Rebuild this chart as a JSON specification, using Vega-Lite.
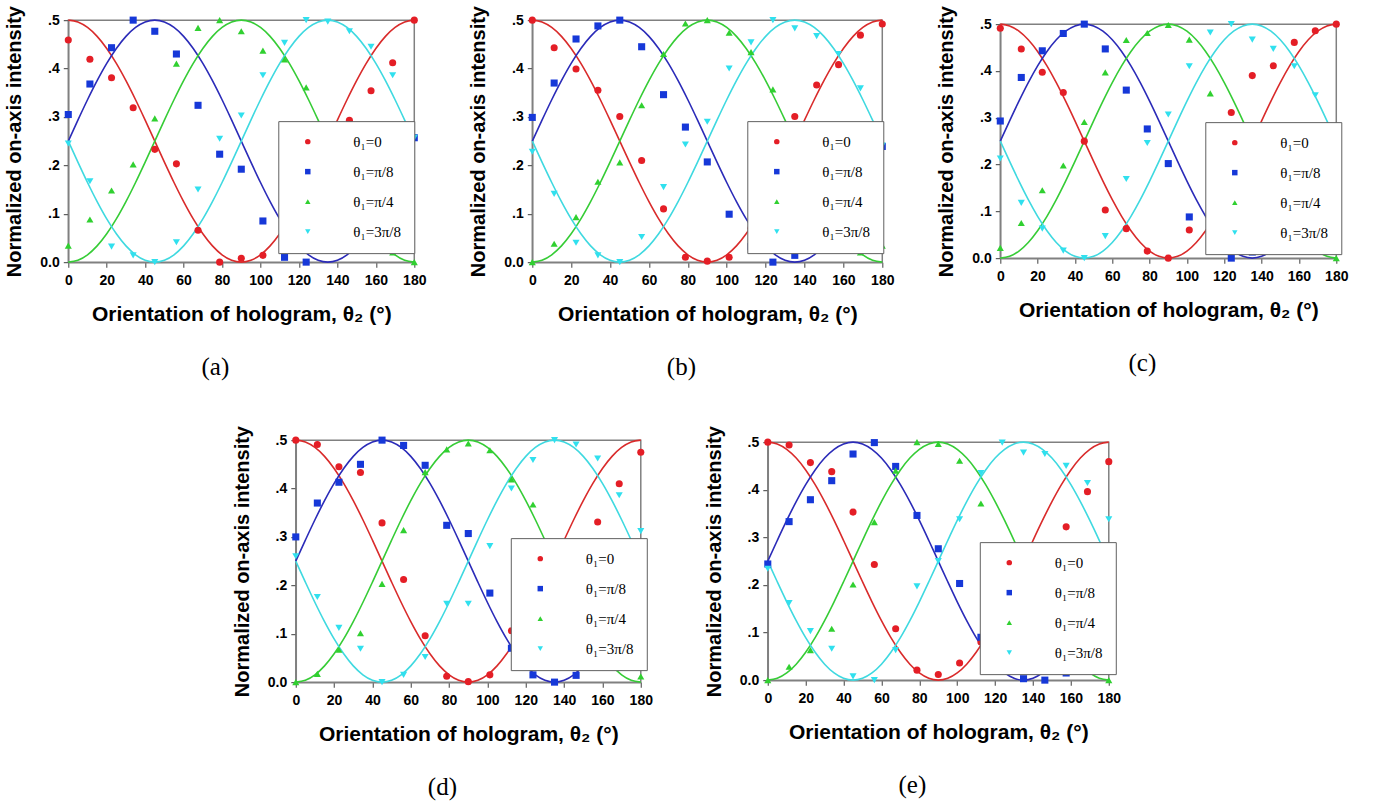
{
"$schema":"https://vega.github.io/schema/vega-lite/v6.json",
"background":"white",
"padding":{"left":4,"top":4,"right":0,"bottom":0},
"config":{
"view":{"stroke":"#808080","strokeWidth":1.5},
"axis":{"grid":false,"domainColor":"#808080","domainWidth":1.5,"tickColor":"#606060","tickSize":5,"tickWidth":1.2,"labelFont":"Liberation Sans","labelFontSize":14,"labelFontWeight":"bold","labelColor":"#000","labelPadding":4,"labelFlush":false,"labelOverlap":false,"titleFont":"Liberation Sans","titleFontSize":20,"titleFontWeight":"bold","titleColor":"#000"},
"axisX":{"labelPadding":6,"titlePadding":16,"titleFontSize":21},
"axisY":{"titlePadding":15},
"legend":{"padding":13,"rowPadding":14,"fillColor":"white","strokeColor":"#606060","labelFont":"Liberation Serif","labelFontSize":15,"labelColor":"#000","symbolSize":30},
"title":{"font":"Liberation Serif","fontSize":25,"fontWeight":"normal","color":"#000","orient":"bottom","frame":"bounds","anchor":"middle","offset":31}
},
"datasets":{
"curves":[
{"k":"R","x":0,"y":0.5},{"k":"R","x":5,"y":0.4962},{"k":"R","x":10,"y":0.4849},{"k":"R","x":15,"y":0.4665},{"k":"R","x":20,"y":0.4415},{"k":"R","x":25,"y":0.4107},{"k":"R","x":30,"y":0.375},{"k":"R","x":35,"y":0.3355},{"k":"R","x":40,"y":0.2934},{"k":"R","x":45,"y":0.25},{"k":"R","x":50,"y":0.2066},{"k":"R","x":55,"y":0.1645},{"k":"R","x":60,"y":0.125},{"k":"R","x":65,"y":0.0893},{"k":"R","x":70,"y":0.0585},{"k":"R","x":75,"y":0.0335},{"k":"R","x":80,"y":0.0151},{"k":"R","x":85,"y":0.0038},{"k":"R","x":90,"y":0},{"k":"R","x":95,"y":0.0038},{"k":"R","x":100,"y":0.0151},{"k":"R","x":105,"y":0.0335},{"k":"R","x":110,"y":0.0585},{"k":"R","x":115,"y":0.0893},{"k":"R","x":120,"y":0.125},{"k":"R","x":125,"y":0.1645},{"k":"R","x":130,"y":0.2066},{"k":"R","x":135,"y":0.25},{"k":"R","x":140,"y":0.2934},{"k":"R","x":145,"y":0.3355},{"k":"R","x":150,"y":0.375},{"k":"R","x":155,"y":0.4107},{"k":"R","x":160,"y":0.4415},{"k":"R","x":165,"y":0.4665},{"k":"R","x":170,"y":0.4849},{"k":"R","x":175,"y":0.4962},{"k":"R","x":180,"y":0.5},
{"k":"B","x":0,"y":0.25},{"k":"B","x":5,"y":0.2934},{"k":"B","x":10,"y":0.3355},{"k":"B","x":15,"y":0.375},{"k":"B","x":20,"y":0.4107},{"k":"B","x":25,"y":0.4415},{"k":"B","x":30,"y":0.4665},{"k":"B","x":35,"y":0.4849},{"k":"B","x":40,"y":0.4962},{"k":"B","x":45,"y":0.5},{"k":"B","x":50,"y":0.4962},{"k":"B","x":55,"y":0.4849},{"k":"B","x":60,"y":0.4665},{"k":"B","x":65,"y":0.4415},{"k":"B","x":70,"y":0.4107},{"k":"B","x":75,"y":0.375},{"k":"B","x":80,"y":0.3355},{"k":"B","x":85,"y":0.2934},{"k":"B","x":90,"y":0.25},{"k":"B","x":95,"y":0.2066},{"k":"B","x":100,"y":0.1645},{"k":"B","x":105,"y":0.125},{"k":"B","x":110,"y":0.0893},{"k":"B","x":115,"y":0.0585},{"k":"B","x":120,"y":0.0335},{"k":"B","x":125,"y":0.0151},{"k":"B","x":130,"y":0.0038},{"k":"B","x":135,"y":0},{"k":"B","x":140,"y":0.0038},{"k":"B","x":145,"y":0.0151},{"k":"B","x":150,"y":0.0335},{"k":"B","x":155,"y":0.0585},{"k":"B","x":160,"y":0.0893},{"k":"B","x":165,"y":0.125},{"k":"B","x":170,"y":0.1645},{"k":"B","x":175,"y":0.2066},{"k":"B","x":180,"y":0.25},
{"k":"G","x":0,"y":0},{"k":"G","x":5,"y":0.0038},{"k":"G","x":10,"y":0.0151},{"k":"G","x":15,"y":0.0335},{"k":"G","x":20,"y":0.0585},{"k":"G","x":25,"y":0.0893},{"k":"G","x":30,"y":0.125},{"k":"G","x":35,"y":0.1645},{"k":"G","x":40,"y":0.2066},{"k":"G","x":45,"y":0.25},{"k":"G","x":50,"y":0.2934},{"k":"G","x":55,"y":0.3355},{"k":"G","x":60,"y":0.375},{"k":"G","x":65,"y":0.4107},{"k":"G","x":70,"y":0.4415},{"k":"G","x":75,"y":0.4665},{"k":"G","x":80,"y":0.4849},{"k":"G","x":85,"y":0.4962},{"k":"G","x":90,"y":0.5},{"k":"G","x":95,"y":0.4962},{"k":"G","x":100,"y":0.4849},{"k":"G","x":105,"y":0.4665},{"k":"G","x":110,"y":0.4415},{"k":"G","x":115,"y":0.4107},{"k":"G","x":120,"y":0.375},{"k":"G","x":125,"y":0.3355},{"k":"G","x":130,"y":0.2934},{"k":"G","x":135,"y":0.25},{"k":"G","x":140,"y":0.2066},{"k":"G","x":145,"y":0.1645},{"k":"G","x":150,"y":0.125},{"k":"G","x":155,"y":0.0893},{"k":"G","x":160,"y":0.0585},{"k":"G","x":165,"y":0.0335},{"k":"G","x":170,"y":0.0151},{"k":"G","x":175,"y":0.0038},{"k":"G","x":180,"y":0},
{"k":"C","x":0,"y":0.25},{"k":"C","x":5,"y":0.2066},{"k":"C","x":10,"y":0.1645},{"k":"C","x":15,"y":0.125},{"k":"C","x":20,"y":0.0893},{"k":"C","x":25,"y":0.0585},{"k":"C","x":30,"y":0.0335},{"k":"C","x":35,"y":0.0151},{"k":"C","x":40,"y":0.0038},{"k":"C","x":45,"y":0},{"k":"C","x":50,"y":0.0038},{"k":"C","x":55,"y":0.0151},{"k":"C","x":60,"y":0.0335},{"k":"C","x":65,"y":0.0585},{"k":"C","x":70,"y":0.0893},{"k":"C","x":75,"y":0.125},{"k":"C","x":80,"y":0.1645},{"k":"C","x":85,"y":0.2066},{"k":"C","x":90,"y":0.25},{"k":"C","x":95,"y":0.2934},{"k":"C","x":100,"y":0.3355},{"k":"C","x":105,"y":0.375},{"k":"C","x":110,"y":0.4107},{"k":"C","x":115,"y":0.4415},{"k":"C","x":120,"y":0.4665},{"k":"C","x":125,"y":0.4849},{"k":"C","x":130,"y":0.4962},{"k":"C","x":135,"y":0.5},{"k":"C","x":140,"y":0.4962},{"k":"C","x":145,"y":0.4849},{"k":"C","x":150,"y":0.4665},{"k":"C","x":155,"y":0.4415},{"k":"C","x":160,"y":0.4107},{"k":"C","x":165,"y":0.375},{"k":"C","x":170,"y":0.3355},{"k":"C","x":175,"y":0.2934},{"k":"C","x":180,"y":0.25}
],
"pa":[
{"s":"r","x":0,"y":0.459},{"s":"r","x":11.25,"y":0.419},{"s":"r","x":22.5,"y":0.381},{"s":"r","x":33.75,"y":0.319},{"s":"r","x":45,"y":0.233},{"s":"r","x":56.25,"y":0.203},{"s":"r","x":67.5,"y":0.066},{"s":"r","x":78.75,"y":0.0},{"s":"r","x":90,"y":0.008},{"s":"r","x":101.25,"y":0.014},{"s":"r","x":112.5,"y":0.07},{"s":"r","x":123.75,"y":0.14},{"s":"r","x":135,"y":0.22},{"s":"r","x":146.25,"y":0.293},{"s":"r","x":157.5,"y":0.354},{"s":"r","x":168.75,"y":0.412},{"s":"r","x":180,"y":0.5},
{"s":"b","x":0,"y":0.305},{"s":"b","x":11.25,"y":0.368},{"s":"b","x":22.5,"y":0.443},{"s":"b","x":33.75,"y":0.5},{"s":"b","x":45,"y":0.477},{"s":"b","x":56.25,"y":0.43},{"s":"b","x":67.5,"y":0.324},{"s":"b","x":78.75,"y":0.223},{"s":"b","x":90,"y":0.192},{"s":"b","x":101.25,"y":0.085},{"s":"b","x":112.5,"y":0.01},{"s":"b","x":123.75,"y":0.0},{"s":"b","x":135,"y":0.03},{"s":"b","x":146.25,"y":0.05},{"s":"b","x":157.5,"y":0.09},{"s":"b","x":168.75,"y":0.16},{"s":"b","x":180,"y":0.257},
{"s":"g","x":0,"y":0.034},{"s":"g","x":11.25,"y":0.088},{"s":"g","x":22.5,"y":0.148},{"s":"g","x":33.75,"y":0.202},{"s":"g","x":45,"y":0.297},{"s":"g","x":56.25,"y":0.41},{"s":"g","x":67.5,"y":0.484},{"s":"g","x":78.75,"y":0.5},{"s":"g","x":90,"y":0.477},{"s":"g","x":101.25,"y":0.437},{"s":"g","x":112.5,"y":0.419},{"s":"g","x":123.75,"y":0.361},{"s":"g","x":135,"y":0.27},{"s":"g","x":146.25,"y":0.15},{"s":"g","x":157.5,"y":0.07},{"s":"g","x":168.75,"y":0.02},{"s":"g","x":180,"y":0.0},
{"s":"c","x":0,"y":0.245},{"s":"c","x":11.25,"y":0.167},{"s":"c","x":22.5,"y":0.032},{"s":"c","x":33.75,"y":0.014},{"s":"c","x":45,"y":0.0},{"s":"c","x":56.25,"y":0.041},{"s":"c","x":67.5,"y":0.15},{"s":"c","x":78.75,"y":0.255},{"s":"c","x":90,"y":0.303},{"s":"c","x":101.25,"y":0.386},{"s":"c","x":112.5,"y":0.453},{"s":"c","x":123.75,"y":0.5},{"s":"c","x":135,"y":0.497},{"s":"c","x":146.25,"y":0.477},{"s":"c","x":157.5,"y":0.445},{"s":"c","x":168.75,"y":0.386},{"s":"c","x":180,"y":0.257}
],
"pb":[
{"s":"r","x":0,"y":0.5},{"s":"r","x":11.25,"y":0.443},{"s":"r","x":22.5,"y":0.399},{"s":"r","x":33.75,"y":0.355},{"s":"r","x":45,"y":0.301},{"s":"r","x":56.25,"y":0.21},{"s":"r","x":67.5,"y":0.11},{"s":"r","x":78.75,"y":0.01},{"s":"r","x":90,"y":0.002},{"s":"r","x":101.25,"y":0.01},{"s":"r","x":112.5,"y":0.07},{"s":"r","x":123.75,"y":0.2},{"s":"r","x":135,"y":0.301},{"s":"r","x":146.25,"y":0.366},{"s":"r","x":157.5,"y":0.408},{"s":"r","x":168.75,"y":0.469},{"s":"r","x":180,"y":0.492},
{"s":"b","x":0,"y":0.299},{"s":"b","x":11.25,"y":0.37},{"s":"b","x":22.5,"y":0.461},{"s":"b","x":33.75,"y":0.488},{"s":"b","x":45,"y":0.5},{"s":"b","x":56.25,"y":0.445},{"s":"b","x":67.5,"y":0.346},{"s":"b","x":78.75,"y":0.279},{"s":"b","x":90,"y":0.207},{"s":"b","x":101.25,"y":0.099},{"s":"b","x":112.5,"y":0.032},{"s":"b","x":123.75,"y":0.0},{"s":"b","x":135,"y":0.014},{"s":"b","x":146.25,"y":0.04},{"s":"b","x":157.5,"y":0.09},{"s":"b","x":168.75,"y":0.17},{"s":"b","x":180,"y":0.239},
{"s":"g","x":0,"y":0.0},{"s":"g","x":11.25,"y":0.038},{"s":"g","x":22.5,"y":0.093},{"s":"g","x":33.75,"y":0.166},{"s":"g","x":45,"y":0.206},{"s":"g","x":56.25,"y":0.324},{"s":"g","x":67.5,"y":0.43},{"s":"g","x":78.75,"y":0.493},{"s":"g","x":90,"y":0.5},{"s":"g","x":101.25,"y":0.474},{"s":"g","x":112.5,"y":0.434},{"s":"g","x":123.75,"y":0.357},{"s":"g","x":135,"y":0.26},{"s":"g","x":146.25,"y":0.14},{"s":"g","x":157.5,"y":0.07},{"s":"g","x":168.75,"y":0.02},{"s":"g","x":180,"y":0.034},
{"s":"c","x":0,"y":0.228},{"s":"c","x":11.25,"y":0.141},{"s":"c","x":22.5,"y":0.04},{"s":"c","x":33.75,"y":0.014},{"s":"c","x":45,"y":0.0},{"s":"c","x":56.25,"y":0.052},{"s":"c","x":67.5,"y":0.155},{"s":"c","x":78.75,"y":0.243},{"s":"c","x":90,"y":0.29},{"s":"c","x":101.25,"y":0.4},{"s":"c","x":112.5,"y":0.454},{"s":"c","x":123.75,"y":0.5},{"s":"c","x":135,"y":0.483},{"s":"c","x":146.25,"y":0.467},{"s":"c","x":157.5,"y":0.43},{"s":"c","x":168.75,"y":0.359},{"s":"c","x":180,"y":0.241}
],
"pc":[
{"s":"r","x":0,"y":0.491},{"s":"r","x":11.25,"y":0.447},{"s":"r","x":22.5,"y":0.397},{"s":"r","x":33.75,"y":0.354},{"s":"r","x":45,"y":0.25},{"s":"r","x":56.25,"y":0.103},{"s":"r","x":67.5,"y":0.063},{"s":"r","x":78.75,"y":0.015},{"s":"r","x":90,"y":0.0},{"s":"r","x":101.25,"y":0.06},{"s":"r","x":112.5,"y":0.19},{"s":"r","x":123.75,"y":0.311},{"s":"r","x":135,"y":0.39},{"s":"r","x":146.25,"y":0.411},{"s":"r","x":157.5,"y":0.461},{"s":"r","x":168.75,"y":0.486},{"s":"r","x":180,"y":0.5},
{"s":"b","x":0,"y":0.293},{"s":"b","x":11.25,"y":0.386},{"s":"b","x":22.5,"y":0.443},{"s":"b","x":33.75,"y":0.48},{"s":"b","x":45,"y":0.5},{"s":"b","x":56.25,"y":0.447},{"s":"b","x":67.5,"y":0.359},{"s":"b","x":78.75,"y":0.276},{"s":"b","x":90,"y":0.202},{"s":"b","x":101.25,"y":0.088},{"s":"b","x":112.5,"y":0.04},{"s":"b","x":123.75,"y":0.0},{"s":"b","x":135,"y":0.013},{"s":"b","x":146.25,"y":0.04},{"s":"b","x":157.5,"y":0.09},{"s":"b","x":168.75,"y":0.16},{"s":"b","x":180,"y":0.234},
{"s":"g","x":0,"y":0.022},{"s":"g","x":11.25,"y":0.075},{"s":"g","x":22.5,"y":0.145},{"s":"g","x":33.75,"y":0.198},{"s":"g","x":45,"y":0.291},{"s":"g","x":56.25,"y":0.397},{"s":"g","x":67.5,"y":0.466},{"s":"g","x":78.75,"y":0.481},{"s":"g","x":90,"y":0.498},{"s":"g","x":101.25,"y":0.467},{"s":"g","x":112.5,"y":0.352},{"s":"g","x":123.75,"y":0.27},{"s":"g","x":135,"y":0.22},{"s":"g","x":146.25,"y":0.14},{"s":"g","x":157.5,"y":0.07},{"s":"g","x":168.75,"y":0.02},{"s":"g","x":180,"y":0.0},
{"s":"c","x":0,"y":0.213},{"s":"c","x":11.25,"y":0.118},{"s":"c","x":22.5,"y":0.063},{"s":"c","x":33.75,"y":0.016},{"s":"c","x":45,"y":0.0},{"s":"c","x":56.25,"y":0.047},{"s":"c","x":67.5,"y":0.169},{"s":"c","x":78.75,"y":0.246},{"s":"c","x":90,"y":0.307},{"s":"c","x":101.25,"y":0.41},{"s":"c","x":112.5,"y":0.482},{"s":"c","x":123.75,"y":0.5},{"s":"c","x":135,"y":0.467},{"s":"c","x":146.25,"y":0.447},{"s":"c","x":157.5,"y":0.41},{"s":"c","x":168.75,"y":0.348},{"s":"c","x":180,"y":0.25}
],
"pd":[
{"s":"r","x":0,"y":0.5},{"s":"r","x":11.25,"y":0.491},{"s":"r","x":22.5,"y":0.445},{"s":"r","x":33.75,"y":0.433},{"s":"r","x":45,"y":0.329},{"s":"r","x":56.25,"y":0.212},{"s":"r","x":67.5,"y":0.096},{"s":"r","x":78.75,"y":0.012},{"s":"r","x":90,"y":0.001},{"s":"r","x":101.25,"y":0.015},{"s":"r","x":112.5,"y":0.106},{"s":"r","x":123.75,"y":0.15},{"s":"r","x":135,"y":0.22},{"s":"r","x":146.25,"y":0.27},{"s":"r","x":157.5,"y":0.331},{"s":"r","x":168.75,"y":0.41},{"s":"r","x":180,"y":0.475},
{"s":"b","x":0,"y":0.3},{"s":"b","x":11.25,"y":0.37},{"s":"b","x":22.5,"y":0.413},{"s":"b","x":33.75,"y":0.45},{"s":"b","x":45,"y":0.5},{"s":"b","x":56.25,"y":0.489},{"s":"b","x":67.5,"y":0.448},{"s":"b","x":78.75,"y":0.324},{"s":"b","x":90,"y":0.307},{"s":"b","x":101.25,"y":0.184},{"s":"b","x":112.5,"y":0.07},{"s":"b","x":123.75,"y":0.015},{"s":"b","x":135,"y":0.0},{"s":"b","x":146.25,"y":0.014},{"s":"b","x":157.5,"y":0.06},{"s":"b","x":168.75,"y":0.13},{"s":"b","x":180,"y":0.206},
{"s":"g","x":0,"y":0.0},{"s":"g","x":11.25,"y":0.017},{"s":"g","x":22.5,"y":0.067},{"s":"g","x":33.75,"y":0.101},{"s":"g","x":45,"y":0.203},{"s":"g","x":56.25,"y":0.314},{"s":"g","x":67.5,"y":0.434},{"s":"g","x":78.75,"y":0.481},{"s":"g","x":90,"y":0.493},{"s":"g","x":101.25,"y":0.479},{"s":"g","x":112.5,"y":0.419},{"s":"g","x":123.75,"y":0.367},{"s":"g","x":135,"y":0.26},{"s":"g","x":146.25,"y":0.16},{"s":"g","x":157.5,"y":0.08},{"s":"g","x":168.75,"y":0.03},{"s":"g","x":180,"y":0.012},
{"s":"c","x":0,"y":0.26},{"s":"c","x":11.25,"y":0.176},{"s":"c","x":22.5,"y":0.112},{"s":"c","x":33.75,"y":0.069},{"s":"c","x":45,"y":0.0},{"s":"c","x":56.25,"y":0.015},{"s":"c","x":67.5,"y":0.052},{"s":"c","x":78.75,"y":0.162},{"s":"c","x":90,"y":0.162},{"s":"c","x":101.25,"y":0.281},{"s":"c","x":112.5,"y":0.4},{"s":"c","x":123.75,"y":0.459},{"s":"c","x":135,"y":0.5},{"s":"c","x":146.25,"y":0.491},{"s":"c","x":157.5,"y":0.462},{"s":"c","x":168.75,"y":0.386},{"s":"c","x":180,"y":0.312}
],
"pe":[
{"s":"r","x":0,"y":0.5},{"s":"r","x":11.25,"y":0.494},{"s":"r","x":22.5,"y":0.457},{"s":"r","x":33.75,"y":0.438},{"s":"r","x":45,"y":0.353},{"s":"r","x":56.25,"y":0.243},{"s":"r","x":67.5,"y":0.108},{"s":"r","x":78.75,"y":0.021},{"s":"r","x":90,"y":0.012},{"s":"r","x":101.25,"y":0.036},{"s":"r","x":112.5,"y":0.08},{"s":"r","x":123.75,"y":0.14},{"s":"r","x":135,"y":0.22},{"s":"r","x":146.25,"y":0.28},{"s":"r","x":157.5,"y":0.322},{"s":"r","x":168.75,"y":0.396},{"s":"r","x":180,"y":0.459},
{"s":"b","x":0,"y":0.244},{"s":"b","x":11.25,"y":0.333},{"s":"b","x":22.5,"y":0.379},{"s":"b","x":33.75,"y":0.419},{"s":"b","x":45,"y":0.475},{"s":"b","x":56.25,"y":0.499},{"s":"b","x":67.5,"y":0.449},{"s":"b","x":78.75,"y":0.346},{"s":"b","x":90,"y":0.276},{"s":"b","x":101.25,"y":0.203},{"s":"b","x":112.5,"y":0.09},{"s":"b","x":123.75,"y":0.03},{"s":"b","x":135,"y":0.003},{"s":"b","x":146.25,"y":0.0},{"s":"b","x":157.5,"y":0.015},{"s":"b","x":168.75,"y":0.08},{"s":"b","x":180,"y":0.141},
{"s":"g","x":0,"y":0.0},{"s":"g","x":11.25,"y":0.028},{"s":"g","x":22.5,"y":0.063},{"s":"g","x":33.75,"y":0.108},{"s":"g","x":45,"y":0.201},{"s":"g","x":56.25,"y":0.332},{"s":"g","x":67.5,"y":0.44},{"s":"g","x":78.75,"y":0.5},{"s":"g","x":90,"y":0.496},{"s":"g","x":101.25,"y":0.461},{"s":"g","x":112.5,"y":0.371},{"s":"g","x":123.75,"y":0.28},{"s":"g","x":135,"y":0.2},{"s":"g","x":146.25,"y":0.12},{"s":"g","x":157.5,"y":0.06},{"s":"g","x":168.75,"y":0.02},{"s":"g","x":180,"y":0.0},
{"s":"c","x":0,"y":0.234},{"s":"c","x":11.25,"y":0.162},{"s":"c","x":22.5,"y":0.103},{"s":"c","x":33.75,"y":0.066},{"s":"c","x":45,"y":0.008},{"s":"c","x":56.25,"y":0.0},{"s":"c","x":67.5,"y":0.063},{"s":"c","x":78.75,"y":0.197},{"s":"c","x":90,"y":0.25},{"s":"c","x":101.25,"y":0.338},{"s":"c","x":112.5,"y":0.435},{"s":"c","x":123.75,"y":0.499},{"s":"c","x":135,"y":0.478},{"s":"c","x":146.25,"y":0.475},{"s":"c","x":157.5,"y":0.45},{"s":"c","x":168.75,"y":0.414},{"s":"c","x":180,"y":0.338}
]
},
"vconcat":[
{"hconcat":[
{"width":346,"height":242,"title":{"text":"(a)"},
"encoding":{"x":{"field":"x","type":"quantitative","scale":{"domain":[0,180],"nice":false},"axis":{"values":[0,20,40,60,80,100,120,140,160,180],"tickCount":10,"labelOverlap":false,"title":"Orientation of hologram, θ₂ (°)"}},"y":{"field":"y","type":"quantitative","scale":{"domain":[0,0.5],"nice":false},"axis":{"values":[0,0.1,0.2,0.3,0.4,0.5],"labelOverlap":false,"labelExpr":"datum.value == 0 ? '0.0' : slice(format(datum.value, '.1f'), 1)","title":"Normalized on-axis intensity"}}},
"layer":[
{"data":{"name":"curves"},"mark":{"type":"line","strokeWidth":1.6,"interpolate":"monotone"},"encoding":{"stroke":{"field":"k","type":"nominal","scale":{"domain":["R","B","G","C"],"range":["#d92b2b","#2b2bb8","#36cc36","#3fd9e0"]},"legend":null}}},
{"data":{"name":"pa"},"mark":{"type":"point","filled":true,"opacity":1,"size":50},"encoding":{"color":{"field":"s","type":"nominal","scale":{"domain":["r","b","g","c"],"range":["#e41e26","#1638d8","#30d030","#30e0ee"]},"legend":{"title":null,"orient":"none","legendX":210,"legendY":101,"padding":13,"rowPadding":14,"symbolOffset":9,"labelOffset":38,"labelExpr":"datum.label=='r'?'θ₁=0':datum.label=='b'?'θ₁=π/8':datum.label=='g'?'θ₁=π/4':'θ₁=3π/8'"}},"shape":{"field":"s","type":"nominal","scale":{"domain":["r","b","g","c"],"range":["circle","square","triangle-up","triangle-down"]},"legend":{"title":null,"orient":"none","legendX":210,"legendY":101,"padding":13,"rowPadding":14,"symbolOffset":9,"labelOffset":38,"labelExpr":"datum.label=='r'?'θ₁=0':datum.label=='b'?'θ₁=π/8':datum.label=='g'?'θ₁=π/4':'θ₁=3π/8'"}}}}
]},
{"width":350,"height":242,"title":{"text":"(b)"},
"encoding":{"x":{"field":"x","type":"quantitative","scale":{"domain":[0,180],"nice":false},"axis":{"values":[0,20,40,60,80,100,120,140,160,180],"tickCount":10,"labelOverlap":false,"title":"Orientation of hologram, θ₂ (°)"}},"y":{"field":"y","type":"quantitative","scale":{"domain":[0,0.5],"nice":false},"axis":{"values":[0,0.1,0.2,0.3,0.4,0.5],"labelOverlap":false,"labelExpr":"datum.value == 0 ? '0.0' : slice(format(datum.value, '.1f'), 1)","title":"Normalized on-axis intensity"}}},
"layer":[
{"data":{"name":"curves"},"mark":{"type":"line","strokeWidth":1.6,"interpolate":"monotone"},"encoding":{"stroke":{"field":"k","type":"nominal","scale":{"domain":["R","B","G","C"],"range":["#d92b2b","#2b2bb8","#36cc36","#3fd9e0"]},"legend":null}}},
{"data":{"name":"pb"},"mark":{"type":"point","filled":true,"opacity":1,"size":50},"encoding":{"color":{"field":"s","type":"nominal","scale":{"domain":["r","b","g","c"],"range":["#e41e26","#1638d8","#30d030","#30e0ee"]},"legend":{"title":null,"orient":"none","legendX":215,"legendY":101,"padding":13,"rowPadding":14,"symbolOffset":9,"labelOffset":38,"labelExpr":"datum.label=='r'?'θ₁=0':datum.label=='b'?'θ₁=π/8':datum.label=='g'?'θ₁=π/4':'θ₁=3π/8'"}},"shape":{"field":"s","type":"nominal","scale":{"domain":["r","b","g","c"],"range":["circle","square","triangle-up","triangle-down"]},"legend":{"title":null,"orient":"none","legendX":215,"legendY":101,"padding":13,"rowPadding":14,"symbolOffset":9,"labelOffset":38,"labelExpr":"datum.label=='r'?'θ₁=0':datum.label=='b'?'θ₁=π/8':datum.label=='g'?'θ₁=π/4':'θ₁=3π/8'"}}}}
]},
{"width":336,"height":234,"title":{"text":"(c)"},
"encoding":{"x":{"field":"x","type":"quantitative","scale":{"domain":[0,180],"nice":false},"axis":{"values":[0,20,40,60,80,100,120,140,160,180],"tickCount":10,"labelOverlap":false,"title":"Orientation of hologram, θ₂ (°)"}},"y":{"field":"y","type":"quantitative","scale":{"domain":[0,0.5],"nice":false},"axis":{"values":[0,0.1,0.2,0.3,0.4,0.5],"labelOverlap":false,"labelExpr":"datum.value == 0 ? '0.0' : slice(format(datum.value, '.1f'), 1)","title":"Normalized on-axis intensity"}}},
"layer":[
{"data":{"name":"curves"},"mark":{"type":"line","strokeWidth":1.6,"interpolate":"monotone"},"encoding":{"stroke":{"field":"k","type":"nominal","scale":{"domain":["R","B","G","C"],"range":["#d92b2b","#2b2bb8","#36cc36","#3fd9e0"]},"legend":null}}},
{"data":{"name":"pc"},"mark":{"type":"point","filled":true,"opacity":1,"size":50},"encoding":{"color":{"field":"s","type":"nominal","scale":{"domain":["r","b","g","c"],"range":["#e41e26","#1638d8","#30d030","#30e0ee"]},"legend":{"title":null,"orient":"none","legendX":205,"legendY":98,"padding":13,"rowPadding":14,"symbolOffset":9,"labelOffset":38,"labelExpr":"datum.label=='r'?'θ₁=0':datum.label=='b'?'θ₁=π/8':datum.label=='g'?'θ₁=π/4':'θ₁=3π/8'"}},"shape":{"field":"s","type":"nominal","scale":{"domain":["r","b","g","c"],"range":["circle","square","triangle-up","triangle-down"]},"legend":{"title":null,"orient":"none","legendX":205,"legendY":98,"padding":13,"rowPadding":14,"symbolOffset":9,"labelOffset":38,"labelExpr":"datum.label=='r'?'θ₁=0':datum.label=='b'?'θ₁=π/8':datum.label=='g'?'θ₁=π/4':'θ₁=3π/8'"}}}}
]}
],"spacing":40,"center":true,
"resolve":{"scale":{"color":"independent","shape":"independent","stroke":"independent","x":"independent","y":"independent"},"legend":{"color":"independent","shape":"independent","stroke":"independent"}}},
{"hconcat":[
{"width":345,"height":242,"title":{"text":"(d)"},
"encoding":{"x":{"field":"x","type":"quantitative","scale":{"domain":[0,180],"nice":false},"axis":{"values":[0,20,40,60,80,100,120,140,160,180],"tickCount":10,"labelOverlap":false,"title":"Orientation of hologram, θ₂ (°)"}},"y":{"field":"y","type":"quantitative","scale":{"domain":[0,0.5],"nice":false},"axis":{"values":[0,0.1,0.2,0.3,0.4,0.5],"labelOverlap":false,"labelExpr":"datum.value == 0 ? '0.0' : slice(format(datum.value, '.1f'), 1)","title":"Normalized on-axis intensity"}}},
"layer":[
{"data":{"name":"curves"},"mark":{"type":"line","strokeWidth":1.6,"interpolate":"monotone"},"encoding":{"stroke":{"field":"k","type":"nominal","scale":{"domain":["R","B","G","C"],"range":["#d92b2b","#2b2bb8","#36cc36","#3fd9e0"]},"legend":null}}},
{"data":{"name":"pd"},"mark":{"type":"point","filled":true,"opacity":1,"size":50},"encoding":{"color":{"field":"s","type":"nominal","scale":{"domain":["r","b","g","c"],"range":["#e41e26","#1638d8","#30d030","#30e0ee"]},"legend":{"title":null,"orient":"none","legendX":215,"legendY":98,"padding":13,"rowPadding":14,"symbolOffset":9,"labelOffset":38,"labelExpr":"datum.label=='r'?'θ₁=0':datum.label=='b'?'θ₁=π/8':datum.label=='g'?'θ₁=π/4':'θ₁=3π/8'"}},"shape":{"field":"s","type":"nominal","scale":{"domain":["r","b","g","c"],"range":["circle","square","triangle-up","triangle-down"]},"legend":{"title":null,"orient":"none","legendX":215,"legendY":98,"padding":13,"rowPadding":14,"symbolOffset":9,"labelOffset":38,"labelExpr":"datum.label=='r'?'θ₁=0':datum.label=='b'?'θ₁=π/8':datum.label=='g'?'θ₁=π/4':'θ₁=3π/8'"}}}}
]},
{"width":341,"height":238,"title":{"text":"(e)"},
"encoding":{"x":{"field":"x","type":"quantitative","scale":{"domain":[0,180],"nice":false},"axis":{"values":[0,20,40,60,80,100,120,140,160,180],"tickCount":10,"labelOverlap":false,"title":"Orientation of hologram, θ₂ (°)"}},"y":{"field":"y","type":"quantitative","scale":{"domain":[0,0.5],"nice":false},"axis":{"values":[0,0.1,0.2,0.3,0.4,0.5],"labelOverlap":false,"labelExpr":"datum.value == 0 ? '0.0' : slice(format(datum.value, '.1f'), 1)","title":"Normalized on-axis intensity"}}},
"layer":[
{"data":{"name":"curves"},"mark":{"type":"line","strokeWidth":1.6,"interpolate":"monotone"},"encoding":{"stroke":{"field":"k","type":"nominal","scale":{"domain":["R","B","G","C"],"range":["#d92b2b","#2b2bb8","#36cc36","#3fd9e0"]},"legend":null}}},
{"data":{"name":"pe"},"mark":{"type":"point","filled":true,"opacity":1,"size":50},"encoding":{"color":{"field":"s","type":"nominal","scale":{"domain":["r","b","g","c"],"range":["#e41e26","#1638d8","#30d030","#30e0ee"]},"legend":{"title":null,"orient":"none","legendX":212,"legendY":100,"padding":13,"rowPadding":14,"symbolOffset":9,"labelOffset":38,"labelExpr":"datum.label=='r'?'θ₁=0':datum.label=='b'?'θ₁=π/8':datum.label=='g'?'θ₁=π/4':'θ₁=3π/8'"}},"shape":{"field":"s","type":"nominal","scale":{"domain":["r","b","g","c"],"range":["circle","square","triangle-up","triangle-down"]},"legend":{"title":null,"orient":"none","legendX":212,"legendY":100,"padding":13,"rowPadding":14,"symbolOffset":9,"labelOffset":38,"labelExpr":"datum.label=='r'?'θ₁=0':datum.label=='b'?'θ₁=π/8':datum.label=='g'?'θ₁=π/4':'θ₁=3π/8'"}}}}
]}
],"spacing":49,"center":true,
"resolve":{"scale":{"color":"independent","shape":"independent","stroke":"independent","x":"independent","y":"independent"},"legend":{"color":"independent","shape":"independent","stroke":"independent"}}}
],
"spacing":43,
"center":true,
"resolve":{"scale":{"color":"independent","shape":"independent","stroke":"independent","x":"independent","y":"independent"},"legend":{"color":"independent","shape":"independent"}}
}
